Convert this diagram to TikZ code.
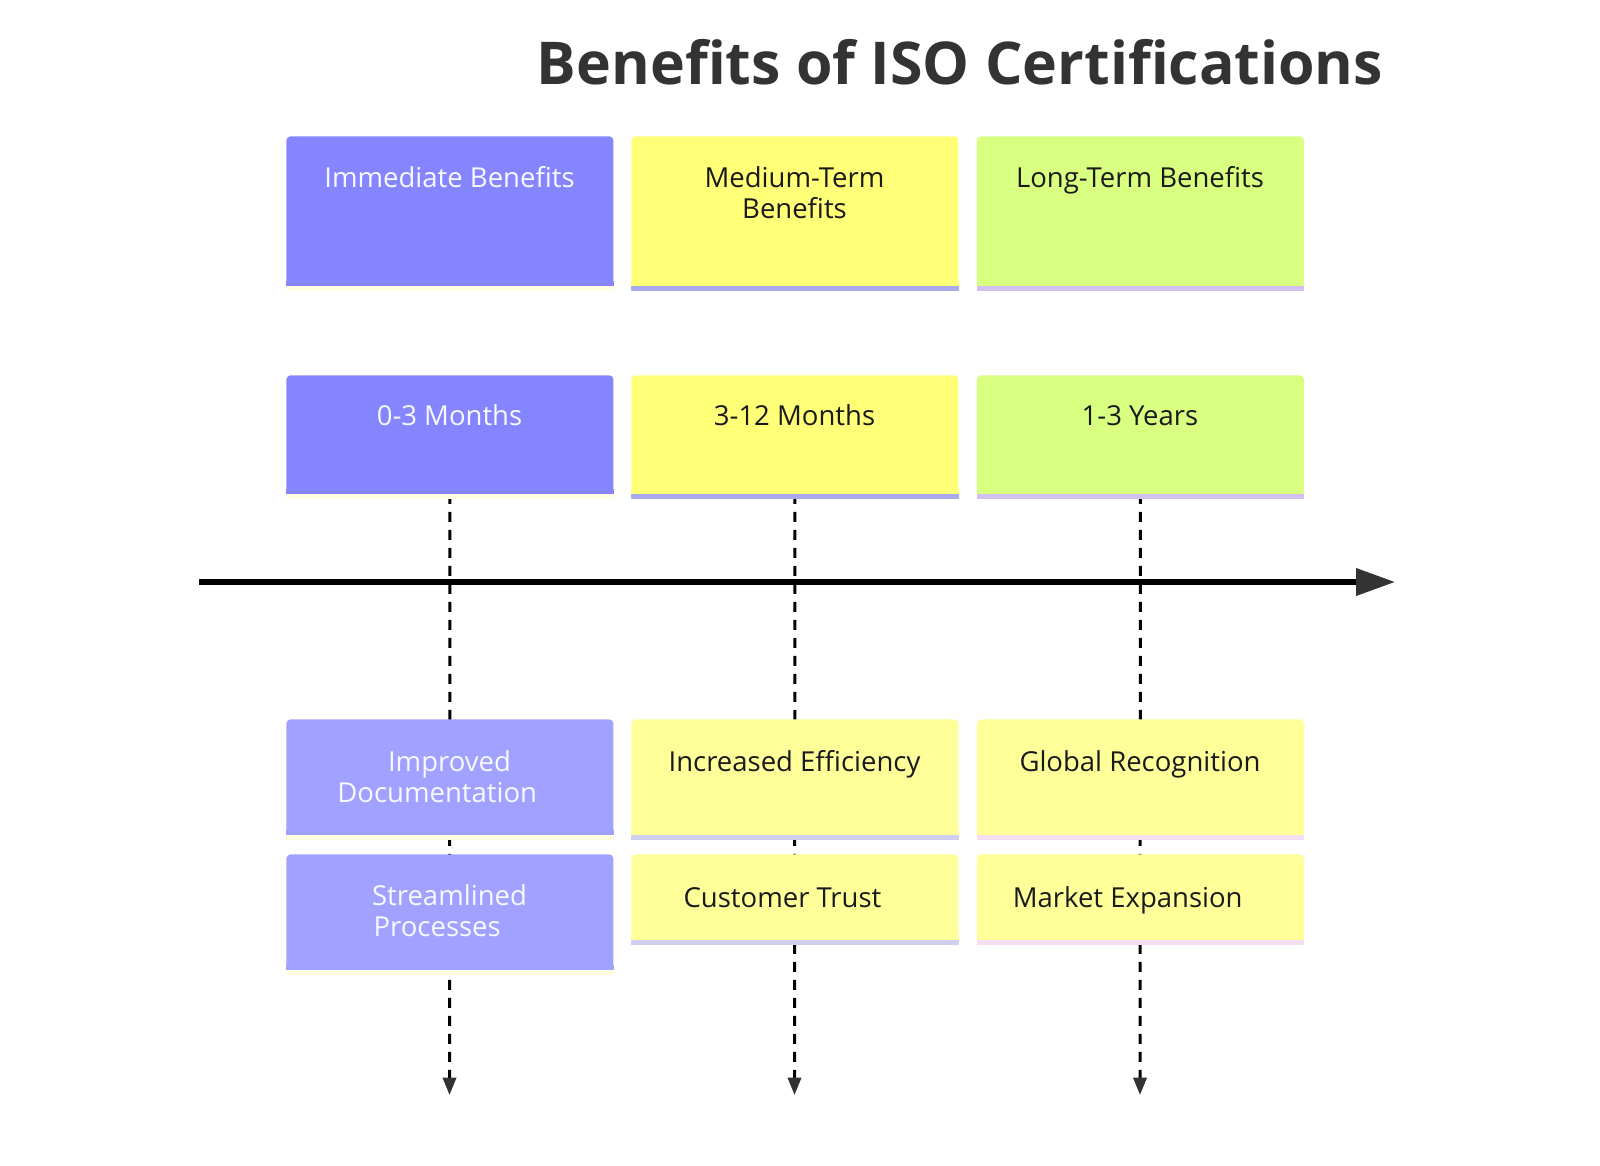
\documentclass[tikz,border=0pt]{standalone}
\usepackage{fontspec}
\setmainfont{Open Sans}
\usetikzlibrary{arrows.meta,backgrounds}
\definecolor{cpurple}{HTML}{8585FF}
\definecolor{clpurple}{HTML}{A1A1FF}
\definecolor{cyellow}{HTML}{FFFF78}
\definecolor{clyellow}{HTML}{FFFF99}
\definecolor{cgreen}{HTML}{D9FF80}
\definecolor{sYel}{HTML}{FFFFE0}
\definecolor{sBlue}{HTML}{A9A9EE}
\definecolor{sLav}{HTML}{D2C0F0}
\definecolor{sLBlue}{HTML}{CFCFF2}
\definecolor{sPink}{HTML}{F5DDF2}
\definecolor{titlegray}{HTML}{333333}
\definecolor{headgray}{HTML}{333333}
\definecolor{wtext}{HTML}{F8F8FF}
\definecolor{dtext}{HTML}{1A1A1A}
\newcommand\mkcard[6]{%
  \node[card, fill=#5, minimum height=#4, anchor=north west] (#1) at (#2,#3) {};%
  \fill[#5] ([yshift=2.5pt]#1.south west) rectangle (#1.south east);%
  \fill[#6] (#1.south west) rectangle ([yshift=-2.5pt]#1.south east);%
}
\begin{document}
\begin{tikzpicture}[x=0.5pt,y=-0.5pt,
  card/.style={rectangle, draw=none, rounded corners=2pt, minimum width=163.5pt, inner sep=0pt},
  lbl/.style={font=\fontsize{13.75}{15.4}\selectfont, align=center, inner sep=0pt},
  one/.style={text height=10.4pt, text depth=0pt},
  wl/.style={lbl, text=wtext},
  dl/.style={lbl, text=dtext},
  dashline/.style={line width=1.5pt, dash pattern=on 5pt off 4pt, -{Triangle[length=8.7pt,width=6.6pt,color=headgray]}},
  axis/.style={line width=2.55pt, -{Triangle[length=19.5pt,width=13.3pt,color=headgray]}}]
\useasboundingbox (0,0) rectangle (1600,1166);
% title
\node[font=\fontsize{29.5}{33}\selectfont\bfseries, text=titlegray, inner sep=0pt] (title) at (960,62) {Benefits of ISO Certifications};
% row 1
\mkcard{a1}{286}{136}{74.5pt}{cpurple}{sYel}
\mkcard{b1}{631}{136}{74.5pt}{cyellow}{sBlue}
\mkcard{c1}{976.5}{136}{74.5pt}{cgreen}{sLav}
% row 2
\mkcard{a2}{286}{375}{59pt}{cpurple}{sYel}
\mkcard{b2}{631}{375}{59pt}{cyellow}{sBlue}
\mkcard{c2}{976.5}{375}{59pt}{cgreen}{sLav}
% row 3
\mkcard{a3}{286}{719}{57.5pt}{clpurple}{sYel}
\mkcard{b3}{631}{719}{57.5pt}{clyellow}{sLBlue}
\mkcard{c3}{976.5}{719}{57.5pt}{clyellow}{sPink}
% row 4
\mkcard{a4}{286}{854}{57.5pt}{clpurple}{sYel}
\mkcard{b4}{631}{854}{42.5pt}{clyellow}{sLBlue}
\mkcard{c4}{976.5}{854}{42.5pt}{clyellow}{sPink}
% labels
\node[wl, one] (ta1) at (449.5,177.5) {Immediate Benefits};
\node[dl] (tb1) at (794.5,193) {Medium-Term\\Benefits};
\node[dl, one] (tc1) at (1140,177.5) {Long-Term Benefits};
\node[wl, one] (ta2) at (449.5,415.5) {0-3 Months};
\node[dl, one] (tb2) at (794.5,415.5) {3-12 Months};
\node[dl, one] (tc2) at (1140,415.5) {1-3 Years};
\node[wl] (ta3) at (449.5,776.5) {Improved\\Documentation\hspace*{12.3pt}};
\node[dl, one] (tb3) at (794.5,761) {Increased Efficiency};
\node[dl, one] (tc3) at (1140,761) {Global Recognition};
\node[wl] (ta4) at (449.5,911) {Streamlined\\Processes\hspace*{12.3pt}};
\node[dl, one] (tb4) at (782.5,897) {Customer Trust};
\node[dl, one] (tc4) at (1127.7,897) {Market Expansion};
% end coordinates
\coordinate (ea) at (449.5,1095);
\coordinate (eb) at (794.5,1095);
\coordinate (ec) at (1140,1095);
\coordinate (axl) at (199,582);
\coordinate (axr) at (1395,582);
\begin{pgfonlayer}{background}
\draw[dashline] (a2.south) -- (ea);
\draw[dashline] (b2.south) -- (eb);
\draw[dashline] (c2.south) -- (ec);
\end{pgfonlayer}
\draw[axis] (axl) -- (axr);
\end{tikzpicture}
\end{document}
